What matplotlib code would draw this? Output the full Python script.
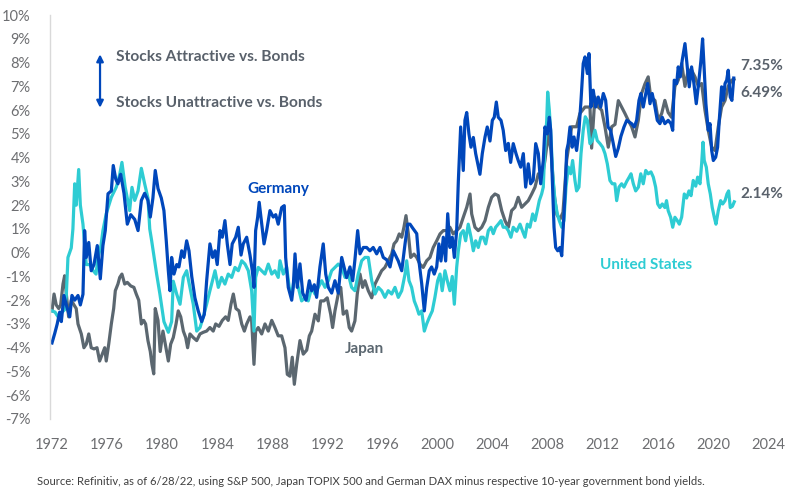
import matplotlib.pyplot as plt
from matplotlib.ticker import FixedLocator

# --- Earnings yield minus 10-year government bond yield (%) ---
germany_years = [
    1972.00, 1972.20, 1972.38, 1972.56, 1972.68, 1972.87, 1973.04, 1973.29, 1973.45, 1973.65,
    1973.89, 1974.06, 1974.25, 1974.37, 1974.49, 1974.67, 1974.85, 1975.05, 1975.29, 1975.51,
    1975.70, 1975.87, 1976.07, 1976.31, 1976.45, 1976.63, 1976.79, 1976.99, 1977.23, 1977.47,
    1977.72, 1978.01, 1978.25, 1978.49, 1978.73, 1978.97, 1979.14, 1979.33, 1979.50, 1979.70,
    1979.94, 1980.13, 1980.30, 1980.45, 1980.57, 1980.69, 1980.86, 1981.06, 1981.22, 1981.42,
    1981.59, 1981.78, 1981.95, 1982.15, 1982.38, 1982.62, 1982.87, 1983.06, 1983.23, 1983.47,
    1983.67, 1983.84, 1984.00, 1984.20, 1984.37, 1984.56, 1984.73, 1984.93, 1985.09, 1985.34,
    1985.53, 1985.73, 1985.89, 1986.14, 1986.38, 1986.55, 1986.67, 1986.79, 1986.94, 1987.05,
    1987.23, 1987.40, 1987.59, 1987.83, 1988.07, 1988.25, 1988.43, 1988.68, 1988.87, 1988.97,
    1989.16, 1989.41, 1989.52, 1989.65, 1989.81, 1990.01, 1990.21, 1990.45, 1990.69, 1990.86,
    1991.05, 1991.22, 1991.46, 1991.70, 1991.88, 1992.07, 1992.31, 1992.55, 1992.79, 1993.04,
    1993.21, 1993.40, 1993.64, 1993.84, 1994.00, 1994.20, 1994.37, 1994.61, 1994.85, 1995.09,
    1995.33, 1995.58, 1995.82, 1996.06, 1996.31, 1996.55, 1996.79, 1997.03, 1997.15, 1997.40,
    1997.64, 1997.83, 1998.00, 1998.24, 1998.49, 1998.65, 1998.85, 1999.04, 1999.21, 1999.40,
    1999.57, 1999.76, 1999.94, 2000.10, 2000.25, 2000.42, 2000.59, 2000.74, 2000.90, 2001.07,
    2001.22, 2001.39, 2001.51, 2001.68, 2001.87, 2001.99, 2002.12, 2002.28, 2002.43, 2002.60,
    2002.77, 2002.92, 2003.08, 2003.25, 2003.45, 2003.61, 2003.81, 2003.98, 2004.12, 2004.27,
    2004.41, 2004.61, 2004.77, 2004.95, 2005.14, 2005.31, 2005.50, 2005.70, 2005.86, 2006.04,
    2006.23, 2006.40, 2006.59, 2006.76, 2006.95, 2007.13, 2007.32, 2007.49, 2007.68, 2007.80,
    2007.97, 2008.12, 2008.22, 2008.33, 2008.46, 2008.58, 2008.73, 2008.89, 2009.02, 2009.13,
    2009.26, 2009.38, 2009.49, 2009.62, 2009.78, 2009.91, 2010.10, 2010.27, 2010.42, 2010.58,
    2010.71, 2010.88, 2011.00, 2011.14, 2011.31, 2011.48, 2011.67, 2011.85, 2012.04, 2012.21,
    2012.38, 2012.57, 2012.76, 2012.94, 2013.13, 2013.32, 2013.54, 2013.74, 2013.92, 2014.10,
    2014.29, 2014.46, 2014.63, 2014.77, 2014.94, 2015.12, 2015.26, 2015.43, 2015.59, 2015.79,
    2015.96, 2016.15, 2016.32, 2016.51, 2016.75, 2016.95, 2017.08, 2017.19, 2017.37, 2017.48,
    2017.63, 2017.77, 2017.97, 2018.11, 2018.28, 2018.45, 2018.62, 2018.79, 2018.96, 2019.13,
    2019.25, 2019.37, 2019.49, 2019.66, 2019.79, 2019.91, 2020.03, 2020.20, 2020.34, 2020.46,
    2020.63, 2020.75, 2020.88, 2021.00, 2021.11, 2021.26, 2021.38, 2021.51,
]
germany_values = [
    -3.8, -3.4, -3.0, -2.5, -2.9, -1.8, -2.2, -2.7, -1.8, -2.0,
    -1.8, -2.2, -1.75, 0.93, -0.2, 0.43, -0.76, -0.5, 0.3, -1.1,
    0.3, 0.93, 2.48, 2.6, 3.67, 3.1, 2.9, 3.3, 2.5, 1.2,
    1.6, 1.4, 0.93, 2.2, 2.5, 2.2, 1.5, 2.3, 3.46, 2.7,
    2.3, 1.77, 0.5, -0.76, -1.6, -0.2, -0.9, -0.5, -0.6, 0.08,
    -0.2, 0.5, 0.08, -1.0, -1.9, -2.45, -2.9, -2.6, -1.2, 0.37,
    -0.2, 0.08, -0.5, 0.93, 0.65, 1.35, 0.37, -0.5, 0.37, 0.65,
    1.07, -0.1, 0.37, 0.65, -0.1, -0.76, -1.46, 0.93, 1.5, 2.12,
    1.2, 0.37, 0.93, 1.77, 1.5, 1.6, 1.2, 1.9, 1.98, -0.2,
    -1.46, -2.0, -1.46, -0.05, -1.46, -0.47, -1.7, -2.0, -1.18, -1.6,
    -1.35, -1.88, -0.6, 0.37, -0.9, -1.46, -1.7, -1.18, -1.7, -0.2,
    -0.6, -1.05, -0.6, -1.18, -0.3, 0.93, -0.05, 0.22, 0.22, 0.08,
    0.22, -0.05, 0.22, -0.2, -0.3, -0.6, 0.08, -0.2, -0.35, -0.76,
    0.37, 1.2, 1.2, 1.0, 0.8, -0.35, -1.3, -2.45, -1.48, -0.76,
    -0.6, -0.9, -0.6, 0.37, -0.35, 0.65, -0.35, 1.64, 0.22, 0.65,
    -0.2, 0.93, 3.0, 5.29, 3.46, 5.57, 5.9, 5.0, 4.44, 4.85,
    4.17, 3.74, 3.3, 4.17, 4.87, 5.29, 4.7, 5.57, 5.7, 6.34,
    5.7, 5.57, 5.15, 4.3, 4.6, 3.8, 4.59, 4.17, 3.88, 3.6,
    4.17, 2.76, 3.74, 2.9, 3.05, 4.59, 4.17, 2.9, 3.88, 5.29,
    5.0, 5.7, 5.15, 3.18, 1.07, 0.22, 0.08, 0.22, -0.13, 1.07,
    2.47, 4.3, 4.59, 5.29, 4.44, 4.87, 4.3, 5.15, 6.41, 7.96,
    8.24, 7.54, 8.38, 6.13, 6.84, 6.13, 6.55, 6.13, 6.7, 6.41,
    5.29, 5.15, 4.6, 4.05, 4.4, 4.9, 5.29, 5.57, 5.5, 5.43,
    5.29, 5.57, 6.41, 6.7, 6.13, 6.7, 7.12, 6.27, 6.7, 6.13,
    5.57, 5.43, 5.7, 5.43, 5.57, 5.43, 5.15, 7.26, 7.12, 7.82,
    7.4, 8.1, 8.8, 7.96, 6.98, 7.82, 7.12, 6.27, 7.12, 8.1,
    9.0, 7.68, 6.27, 5.15, 5.43, 4.3, 3.88, 4.02, 4.44, 5.57,
    6.98, 6.41, 7.12, 7.26, 7.68, 6.55, 6.41, 7.35,
]

japan_years = [
    1972.00, 1972.15, 1972.31, 1972.49, 1972.63, 1972.80, 1972.92, 1973.04, 1973.21, 1973.40,
    1973.60, 1973.76, 1973.89, 1974.13, 1974.32, 1974.49, 1974.67, 1974.85, 1975.05, 1975.27,
    1975.46, 1975.63, 1975.83, 1975.94, 1976.12, 1976.31, 1976.48, 1976.60, 1976.79, 1976.92,
    1977.08, 1977.28, 1977.47, 1977.72, 1977.95, 1978.12, 1978.30, 1978.49, 1978.66, 1978.80,
    1978.97, 1979.14, 1979.26, 1979.39, 1979.50, 1979.70, 1979.86, 1980.06, 1980.23, 1980.45,
    1980.62, 1980.81, 1981.01, 1981.17, 1981.35, 1981.54, 1981.71, 1981.85, 1982.02, 1982.26,
    1982.51, 1982.75, 1982.99, 1983.23, 1983.47, 1983.71, 1983.89, 1984.13, 1984.37, 1984.61,
    1984.80, 1985.00, 1985.17, 1985.36, 1985.58, 1985.78, 1985.97, 1986.14, 1986.38, 1986.50,
    1986.67, 1986.79, 1986.98, 1987.23, 1987.47, 1987.71, 1987.96, 1988.19, 1988.43, 1988.68,
    1988.92, 1989.09, 1989.28, 1989.45, 1989.60, 1989.77, 1990.01, 1990.25, 1990.50, 1990.69,
    1990.86, 1991.10, 1991.34, 1991.51, 1991.75, 1991.99, 1992.24, 1992.38, 1992.55, 1992.79,
    1992.97, 1993.15, 1993.40, 1993.59, 1993.76, 1994.00, 1994.17, 1994.37, 1994.56, 1994.73,
    1994.97, 1995.22, 1995.46, 1995.70, 1995.94, 1996.18, 1996.42, 1996.67, 1996.84, 1997.03,
    1997.22, 1997.40, 1997.56, 1997.71, 1997.88, 1998.05, 1998.29, 1998.49, 1998.72, 1998.96,
    1999.21, 1999.45, 1999.69, 1999.94, 2000.18, 2000.42, 2000.66, 2000.90, 2001.14, 2001.39,
    2001.63, 2001.87, 2002.12, 2002.36, 2002.48, 2002.72, 2002.96, 2003.21, 2003.45, 2003.69,
    2003.93, 2004.17, 2004.41, 2004.66, 2004.90, 2005.14, 2005.38, 2005.62, 2005.86, 2006.11,
    2006.35, 2006.59, 2006.84, 2007.08, 2007.32, 2007.56, 2007.80, 2008.04, 2008.24, 2008.46,
    2008.67, 2008.89, 2009.11, 2009.38, 2009.74, 2010.10, 2010.34, 2010.71, 2011.07, 2011.19,
    2011.43, 2011.67, 2011.92, 2012.16, 2012.40, 2012.65, 2012.89, 2013.13, 2013.37, 2013.61,
    2013.85, 2014.10, 2014.34, 2014.58, 2014.82, 2015.06, 2015.30, 2015.48, 2015.79, 2016.03,
    2016.28, 2016.51, 2016.75, 2016.99, 2017.24, 2017.48, 2017.73, 2017.97, 2018.21, 2018.45,
    2018.70, 2018.94, 2019.18, 2019.42, 2019.66, 2019.91, 2020.15, 2020.39, 2020.63, 2020.88,
    2021.11, 2021.36, 2021.53,
]
japan_values = [
    -2.45, -1.74, -2.2, -2.35, -2.2, -1.32, -0.97, -1.74, -2.7, -2.0,
    -2.2, -2.35, -3.0, -3.42, -4.0, -3.85, -3.42, -4.0, -4.05, -4.0,
    -4.56, -4.3, -4.0, -4.56, -3.85, -3.0, -2.35, -1.6, -1.32, -1.04,
    -0.9, -1.32, -1.25, -1.4, -1.46, -1.74, -2.0, -3.0, -2.85, -3.0,
    -3.7, -4.16, -4.7, -5.1, -2.35, -2.85, -4.16, -3.3, -3.85, -4.56,
    -3.85, -3.57, -3.0, -2.45, -2.7, -3.3, -3.57, -4.0, -3.42, -3.57,
    -3.7, -3.42, -3.35, -3.3, -3.15, -3.3, -3.0, -3.1, -2.85, -2.7,
    -2.85, -2.17, -1.74, -2.35, -2.45, -3.0, -3.3, -3.0, -2.7, -2.85,
    -4.7, -3.3, -3.15, -3.42, -3.0, -3.3, -2.85, -3.15, -3.5, -3.5,
    -4.0, -5.12, -5.2, -4.4, -5.54, -4.7, -3.7, -4.27, -4.1, -3.5,
    -3.3, -2.59, -2.87, -2.03, -2.03, -1.9, -2.59, -3.15, -2.45, -1.74,
    -1.46, -2.59, -2.45, -3.15, -3.3, -2.87, -1.74, -0.9, -1.46, -1.18,
    -1.6, -1.9, -1.32, -1.04, -0.76, -0.62, -0.34, -0.06, 0.37, 0.5,
    0.79, 0.65, 1.07, 1.56, 0.79, -0.2, -0.06, -0.2, -0.48, -0.62,
    -0.34, -0.2, 0.22, 0.5, 0.79, 0.93, 0.93, 1.07, 0.79, 0.93,
    1.07, 1.49, 1.91, 2.47, 1.63, 1.07, 0.93, 1.07, 1.35, 1.91,
    2.33, 2.47, 2.4, 1.77, 1.35, 1.07, 1.77, 1.91, 2.33, 1.91,
    2.05, 2.19, 2.47, 2.76, 3.32, 3.04, 3.88, 5.0, 4.3, 2.5,
    1.6, 1.4, 1.7, 3.9, 5.3, 5.3, 5.86, 6.13, 6.13, 4.4,
    6.55, 6.13, 6.0, 5.3, 4.44, 5.3, 5.4, 6.4, 6.13, 5.86,
    5.57, 5.3, 4.87, 5.57, 6.7, 7.1, 7.4, 6.55, 6.41, 5.57,
    5.86, 6.41, 5.9, 5.7, 7.0, 7.26, 7.96, 7.0, 7.68, 7.68,
    7.4, 7.0, 7.12, 6.0, 5.15, 4.44, 4.3, 5.3, 6.13, 6.41,
    7.0, 7.26, 7.3,
]

us_years = [
    1972.00, 1972.22, 1972.44, 1972.65, 1972.92, 1973.04, 1973.16, 1973.40, 1973.52, 1973.65,
    1973.76, 1973.94, 1974.06, 1974.25, 1974.49, 1974.74, 1974.98, 1975.20, 1975.34, 1975.56,
    1975.70, 1975.94, 1976.31, 1976.67, 1976.92, 1977.08, 1977.32, 1977.64, 1977.81, 1978.01,
    1978.25, 1978.49, 1978.73, 1978.97, 1979.10, 1979.24, 1979.60, 1979.84, 1980.13, 1980.45,
    1980.69, 1980.81, 1981.06, 1981.30, 1981.54, 1981.78, 1982.02, 1982.26, 1982.51, 1982.75,
    1982.99, 1983.23, 1983.47, 1983.84, 1984.08, 1984.32, 1984.56, 1984.80, 1985.05, 1985.29,
    1985.53, 1985.78, 1986.02, 1986.26, 1986.50, 1986.67, 1986.79, 1986.98, 1987.23, 1987.47,
    1987.71, 1987.96, 1988.19, 1988.43, 1988.56, 1988.80, 1989.04, 1989.23, 1989.41, 1989.65,
    1989.89, 1990.13, 1990.37, 1990.61, 1990.86, 1991.10, 1991.34, 1991.59, 1991.83, 1992.07,
    1992.31, 1992.55, 1992.79, 1993.04, 1993.28, 1993.52, 1993.76, 1994.00, 1994.24, 1994.49,
    1994.73, 1994.97, 1995.22, 1995.46, 1995.70, 1995.94, 1996.18, 1996.42, 1996.67, 1996.91,
    1997.15, 1997.40, 1997.64, 1997.76, 1997.93, 1998.12, 1998.31, 1998.49, 1998.65, 1998.85,
    1999.04, 1999.21, 1999.40, 1999.62, 1999.81, 2000.01, 2000.18, 2000.34, 2000.54, 2000.71,
    2000.90, 2001.07, 2001.22, 2001.39, 2001.51, 2001.68, 2001.87, 2002.04, 2002.23, 2002.43,
    2002.60, 2002.77, 2002.96, 2003.15, 2003.32, 2003.50, 2003.69, 2003.88, 2004.05, 2004.22,
    2004.41, 2004.61, 2004.77, 2004.97, 2005.14, 2005.33, 2005.50, 2005.75, 2005.99, 2006.18,
    2006.35, 2006.52, 2006.71, 2006.91, 2007.08, 2007.24, 2007.39, 2007.56, 2007.68, 2007.80,
    2007.93, 2008.00, 2008.12, 2008.24, 2008.36, 2008.53, 2008.70, 2008.84, 2009.02, 2009.18,
    2009.33, 2009.50, 2009.67, 2009.81, 2009.98, 2010.10, 2010.27, 2010.42, 2010.58, 2010.73,
    2010.88, 2011.07, 2011.24, 2011.43, 2011.60, 2011.80, 2011.99, 2012.16, 2012.33, 2012.52,
    2012.69, 2012.88, 2013.01, 2013.18, 2013.37, 2013.54, 2013.74, 2013.92, 2014.05, 2014.22,
    2014.39, 2014.59, 2014.76, 2014.94, 2015.12, 2015.30, 2015.50, 2015.67, 2015.84, 2015.99,
    2016.15, 2016.32, 2016.51, 2016.63, 2016.75, 2016.93, 2017.08, 2017.24, 2017.41, 2017.56,
    2017.73, 2017.92, 2018.09, 2018.26, 2018.41, 2018.57, 2018.75, 2018.89, 2019.06, 2019.18,
    2019.28, 2019.37, 2019.52, 2019.66, 2019.81, 2019.95, 2020.10, 2020.22, 2020.39, 2020.56,
    2020.71, 2020.88, 2021.02, 2021.14, 2021.26, 2021.41, 2021.55,
]
us_values = [
    -2.45, -2.5, -2.7, -2.55, -2.4, -1.8, -0.2, 0.2, 1.0, 2.9,
    2.0, 3.5, 2.0, 1.2, -0.5, -0.5, -0.75, -0.9, -0.2, 0.3,
    0.93, 1.64, 2.33, 2.76, 3.3, 3.8, 2.75, 1.77, 2.75, 2.2,
    2.6, 3.55, 2.9, 2.3, 1.0, 0.5, -0.9, -1.75, -2.9, -3.35,
    -2.9, -1.2, -1.75, -2.17, -1.04, -0.76, -1.46, -2.17, -3.3, -3.15,
    -2.7, -2.17, -1.6, -0.76, -1.46, -1.04, -1.32, -0.9, -1.04, -0.62,
    -0.76, -0.34, -0.48, -0.76, -1.6, -3.3, -1.04, -0.62, -0.76, -0.9,
    -0.48, -0.9, -0.76, -1.04, -0.34, -0.9, -0.6, -1.46, -1.74, -0.9,
    -1.46, -2.03, -1.9, -2.03, -1.46, -1.74, -1.46, -1.18, -1.46, -1.18,
    -0.76, -0.62, -0.48, -0.62, -1.04, -0.9, -1.46, -1.6, -0.9, -0.34,
    -0.2, -0.2, -1.18, -1.74, -1.46, -1.6, -1.88, -1.6, -1.74, -1.46,
    -1.88, -1.6, -0.9, -0.34, -1.18, -1.46, -2.03, -2.3, -2.59, -2.45,
    -3.3, -3.0, -2.73, -2.45, -1.88, -1.18, -0.9, -1.6, -0.76, -1.18,
    -1.6, -1.0, -2.17, -0.62, 0.08, 0.79, 0.93, 0.5, 1.2, 0.65,
    0.08, 0.5, 0.22, 0.65, 0.65, 0.37, 0.93, 1.07, 0.8, 1.07,
    1.2, 1.35, 1.07, 1.07, 0.93, 0.65, 1.07, 0.9, 1.2, 0.9,
    0.65, 1.2, 1.07, 1.63, 1.35, 1.77, 2.19, 2.47, 2.76, 4.44,
    5.57, 6.76, 6.0, 4.87, 3.32, 2.19, 1.63, 1.35, 1.07, 1.35,
    2.76, 3.6, 3.32, 3.88, 3.04, 2.6, 2.76, 4.17, 5.15, 5.72,
    5.57, 4.59, 4.72, 5.15, 4.72, 4.59, 4.44, 4.17, 3.74, 3.04,
    2.9, 2.9, 2.19, 2.76, 2.9, 2.76, 3.0, 3.18, 3.32, 2.9,
    2.6, 2.76, 3.32, 2.9, 3.46, 3.32, 3.4, 3.18, 2.76, 2.05,
    1.9, 2.05, 1.9, 2.19, 1.77, 1.49, 1.07, 1.49, 1.35, 1.2,
    1.5, 2.47, 2.3, 2.6, 2.4, 3.04, 2.8, 3.18, 2.9, 3.74,
    4.65, 3.88, 3.6, 2.9, 2.47, 1.9, 1.49, 1.2, 1.77, 2.19,
    2.05, 2.19, 2.47, 2.6, 1.9, 1.95, 2.14,
]

end_labels = ['7.35%', '6.49%', '2.14%']
year_ticks = list(range(1972, 2025, 4))
pct_ticks = list(range(-7, 11))

BLUE = '#0047BB'
CYAN = '#2ECCD3'
GRAY = '#5B6770'
TEXT = '#59616B'

plt.rcParams['font.family'] = ['Lato', 'DejaVu Sans']

fig = plt.figure(figsize=(8.01, 5.03), dpi=100)
ax = fig.add_axes([0.0624, 0.167, 0.905, 0.803])

ax.plot(japan_years, japan_values, color=GRAY, lw=2.3, solid_joinstyle='round')
ax.plot(us_years, us_values, color=CYAN, lw=2.3, solid_joinstyle='round')
ax.plot(germany_years, germany_values, color=BLUE, lw=2.3, solid_joinstyle='round')

ax.set_xlim(1971.855, 2024.5)
ax.set_ylim(-7, 10)
ax.xaxis.set_major_locator(FixedLocator(year_ticks))
ax.set_xticklabels([str(y) for y in year_ticks])
ax.yaxis.set_major_locator(FixedLocator(pct_ticks))
ax.set_yticklabels([f'{v}%' for v in pct_ticks])
ax.tick_params(axis='both', length=0, labelsize=10.5, labelcolor='#6D6E71')
ax.tick_params(axis='y', pad=14)
ax.tick_params(axis='x', pad=14)

for side in ['top', 'right', 'bottom']:
    ax.spines[side].set_visible(False)
ax.spines['left'].set_color('#D9D9D9')
ax.spines['left'].set_linewidth(1.0)

# attractiveness arrow and captions
ax.annotate('', xy=(1975.49, 8.35), xytext=(1975.49, 6.1),
            arrowprops=dict(arrowstyle='<|-|>', color=BLUE, lw=1.6,
                            mutation_scale=10, shrinkA=0, shrinkB=0))
ax.text(1976.65, 8.23, 'Stocks Attractive vs. Bonds', color=TEXT,
        fontsize=11.2, fontweight='bold', va='center', ha='left')
ax.text(1976.65, 6.29, 'Stocks Unattractive vs. Bonds', color=TEXT,
        fontsize=11.2, fontweight='bold', va='center', ha='left')

# series labels
ax.text(1986.16, 2.66, 'Germany', color=BLUE, fontsize=11, fontweight='bold', va='center')
ax.text(1993.28, -4.05, 'Japan', color=GRAY, fontsize=11, fontweight='bold', va='center')
ax.text(2011.8, -0.5, 'United States', color=CYAN, fontsize=11, fontweight='bold', va='center')

# latest values
for label, y in zip(end_labels, [7.85, 6.71, 2.49]):
    ax.text(2022.0, y, label, color=TEXT, fontsize=11, fontweight='bold',
            va='center', ha='left', clip_on=False)

fig.text(0.046, 0.042,
         'Source: Refinitiv, as of 6/28/22, using S&P 500, Japan TOPIX 500 and German DAX '
         'minus respective 10-year government bond yields.',
         fontsize=8.1, color='#404040', ha='left', va='center')

fig.savefig('out.png', dpi=100)
